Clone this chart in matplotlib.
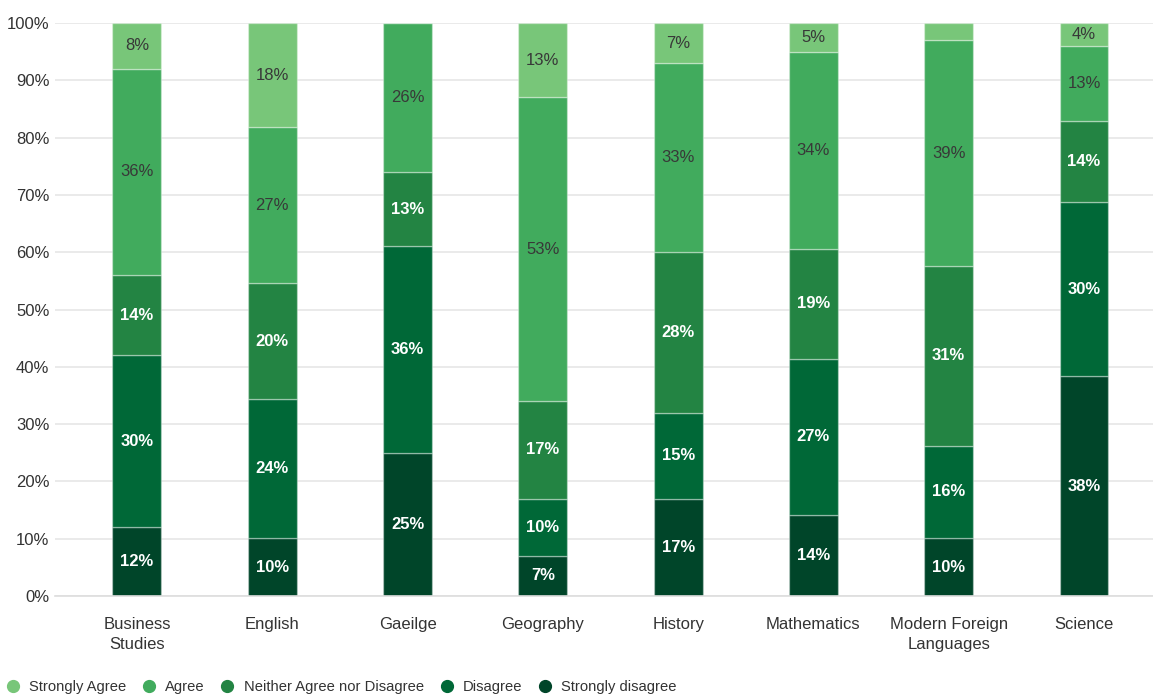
import numpy as np
import matplotlib
matplotlib.use("Agg")
import matplotlib.pyplot as plt
from matplotlib.lines import Line2D

plt.rcParams['font.family'] = ['Liberation Sans', 'DejaVu Sans']

subjects = ["Business\nStudies", "English", "Gaeilge", "Geography", "History",
            "Mathematics", "Modern Foreign\nLanguages", "Science"]

# response shares per subject (percent)
strongly_disagree = [12, 10, 25, 7, 17, 14, 10, 38]
disagree = [30, 24, 36, 10, 15, 27, 16, 30]
neither = [14, 20, 13, 17, 28, 19, 31, 14]
agree = [36, 27, 26, 53, 33, 34, 39, 13]
strongly_agree = [8, 18, 0, 13, 7, 5, 3, 4]

series = [
    ("Strongly disagree", strongly_disagree, "#004529", "white", "bold"),
    ("Disagree", disagree, "#006837", "white", "bold"),
    ("Neither Agree nor Disagree", neither, "#238443", "white", "bold"),
    ("Agree", agree, "#41ab5d", "#383838", "normal"),
    ("Strongly Agree", strongly_agree, "#78c679", "#383838", "normal"),
]

fig = plt.figure(figsize=(11.53, 6.95), dpi=100)
ax = fig.add_axes([55 / 1153, 99 / 695, 1098 / 1153, 573 / 695])

x = np.arange(len(subjects))
totals = np.sum([s[1] for s in series], axis=0)
bottom = np.zeros(len(subjects))
for name, vals, color, tcolor, weight in series:
    vals = np.array(vals, dtype=float)
    heights = vals / totals * 100
    ax.bar(x, heights, width=0.362, bottom=bottom, color=color,
           edgecolor=(1, 1, 1, 0.35), linewidth=1, zorder=2)
    for xi, v, h, b in zip(x, vals, heights, bottom):
        if v >= 4:
            ax.text(xi, b + h / 2, f"{int(v)}%", ha='center', va='center',
                    color=tcolor, fontsize=12, fontweight=weight, zorder=3)
    bottom += heights

ax.set_xlim(-0.606, 7.51)
ax.set_ylim(0, 100)
ax.set_yticks(np.arange(0, 101, 10))
ax.set_yticklabels([f"{t}%" for t in range(0, 101, 10)])
ax.set_xticks(x)
ax.set_xticklabels(subjects, linespacing=1.45)
ax.tick_params(length=0, labelsize=12, colors="#333333")
ax.tick_params(axis='x', pad=15)
ax.tick_params(axis='y', pad=4)
ax.grid(axis='y', color="#e6e6e6", linewidth=1.2, zorder=0)
for side in ["top", "right", "left"]:
    ax.spines[side].set_visible(False)
ax.spines["bottom"].set_color("#dddddd")
ax.spines["bottom"].set_linewidth(1.2)

# legend along the bottom edge
handles = [Line2D([], [], marker='o', linestyle='', markersize=8.5,
                  markerfacecolor=c, markeredgecolor=c, label=n)
           for n, _, c, _, _ in reversed(series)]
fig.legend(handles=handles, loc='lower left', bbox_to_anchor=(-0.007, -0.018),
           ncol=5, frameon=False, fontsize=10.6, handletextpad=0.6,
           columnspacing=1.05, handlelength=1.0, labelcolor="#333333")

fig.savefig("out.png", dpi=100)
